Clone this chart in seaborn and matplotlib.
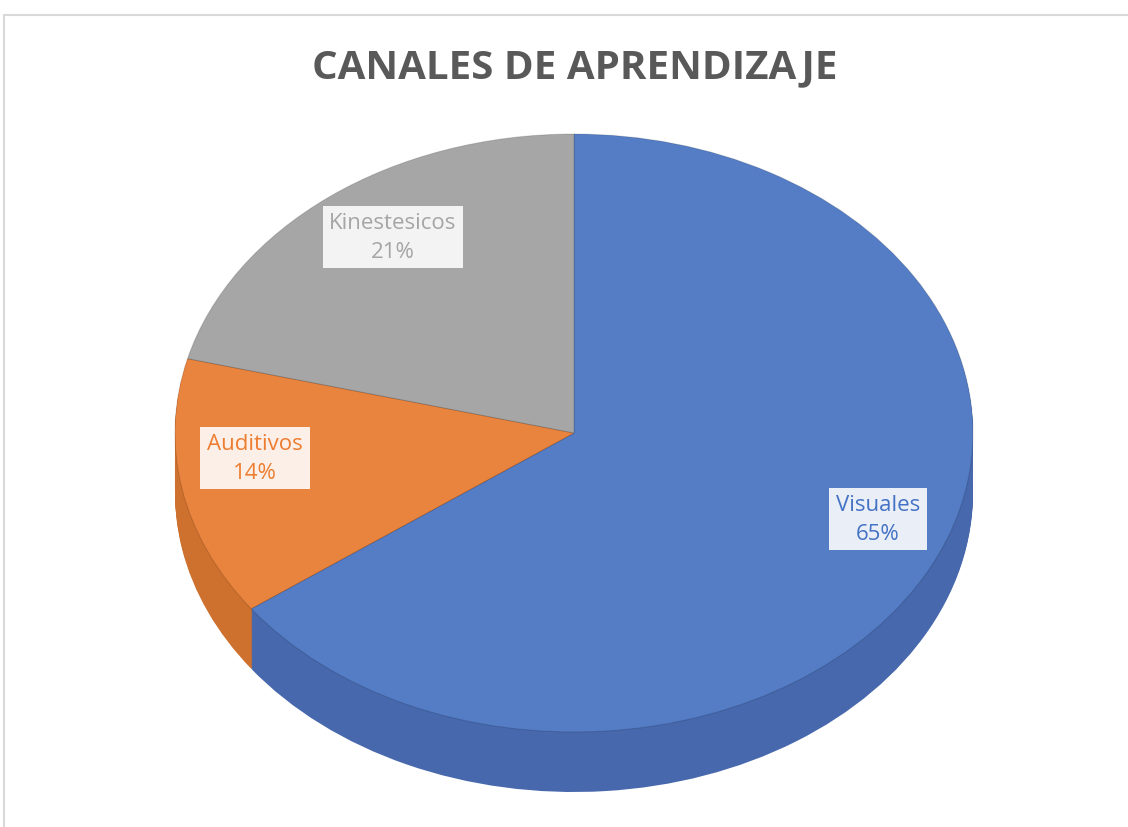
import numpy as np
import matplotlib
matplotlib.use("Agg")
import matplotlib.pyplot as plt
import seaborn as sns
from matplotlib.patches import Rectangle

# ---- data ----
categories = ["Visuales", "Auditivos", "Kinestesicos"]
values = [65, 14, 21]
title = "CANALES DE APRENDIZAJE"

# ---- style ----
sns.set_theme(style="white")
plt.rcParams["font.family"] = ["Open Sans", "DejaVu Sans"]

top_colors = ["#547DC6", "#E9843F", "#A6A6A6"]
side_colors = ["#4768AC", "#CF712E", "#8C8C8C"]
text_colors = ["#4472C4", "#ED7D31", "#A5A5A5"]

W, H = 1128, 828
fig = plt.figure(figsize=(W / 100, H / 100), dpi=100)
fig.patch.set_facecolor("white")

# chart border (right/bottom run off the image)
fig.patches.append(Rectangle((4 / W, -0.2), 1.2, 1.2 - 16 / H, transform=fig.transFigure,
                             fill=False, ec="#D9D9D9", lw=1.5))

# pie ellipse geometry (pixels)
cx, cy, rx, ry, depth = 574, 434, 399, 299, 60
d = depth / ry
ax = fig.add_axes([(cx - rx) / W, (H - cy - ry - depth) / H,
                   2 * rx / W, (2 * ry + depth) / H])

# side (thickness) layers
n_layers = 40
for k in range(n_layers, 0, -1):
    off = d * k / n_layers
    ax.pie(values, startangle=90, counterclock=False, colors=side_colors,
           center=(0, -off), radius=1.0,
           wedgeprops=dict(linewidth=0, antialiased=True))
# top face
wedges, _ = ax.pie(values, startangle=90, counterclock=False, colors=top_colors,
                   radius=1.0,
                   wedgeprops=dict(linewidth=0.8, edgecolor="#00000022"))
ax.set_aspect("auto")
ax.set_xlim(-1, 1)
ax.set_ylim(-1 - d, 1)
ax.axis("off")

# title
fig.text(575 / W, 1 - 68 / H, title, ha="center", va="center", fontsize=29,
         fontweight="bold", color="#595959")

# data labels (pixel positions)
label_pos = [(878, 520), (255, 459), (393, 238)]
for cat, v, (px, py), c in zip(categories, values, label_pos, text_colors):
    fig.text(px / W, 1 - py / H, f"{cat}\n{v}%", ha="center", va="center",
             fontsize=16, color=c, linespacing=1.45,
             bbox=dict(boxstyle="square,pad=0.3", fc="white", ec="none", alpha=0.88))

fig.savefig("out.png", dpi=100)
